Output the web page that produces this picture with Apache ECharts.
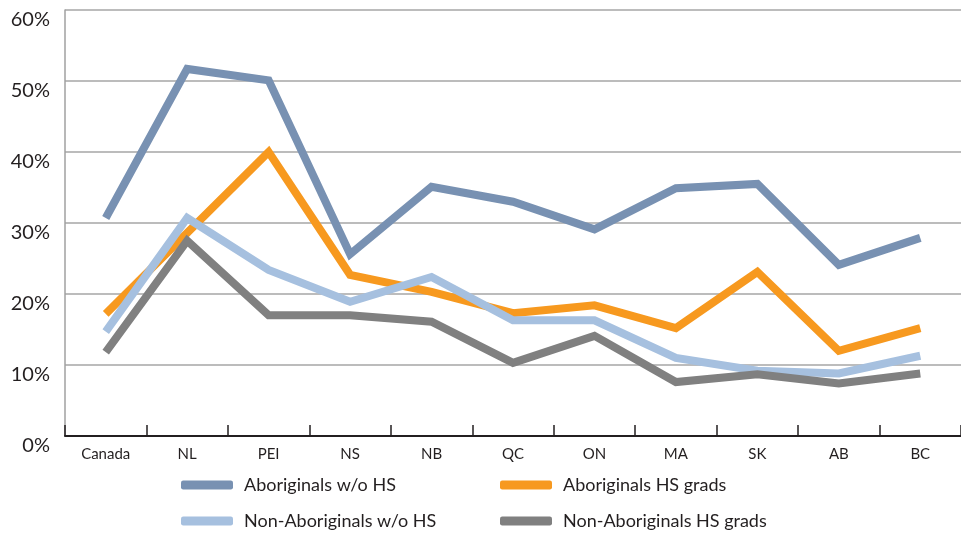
<!DOCTYPE html>
<html>
<head>
<meta charset="utf-8">
<script src="https://cdn.jsdelivr.net/npm/echarts@6/dist/echarts.min.js"></script>
<style>
html,body{margin:0;padding:0;background:#fff;}
#c{width:961px;height:538px;}
</style>
</head>
<body>
<div id="c"></div>
<script>
var categories = ['Canada','NL','PEI','NS','NB','QC','ON','MA','SK','AB','BC'];
var seriesNames = ['Aboriginals w/o HS','Aboriginals HS grads','Non-Aboriginals w/o HS','Non-Aboriginals HS grads'];
var aborigNoHS = [30.7, 51.7, 50.1, 25.6, 35.1, 33.0, 29.1, 34.9, 35.5, 24.1, 27.9];
var aborigHSGrads = [17.2, 28.6, 40.0, 22.7, 20.3, 17.3, 18.4, 15.2, 23.1, 12.0, 15.2];
var nonAborigNoHS = [14.7, 30.7, 23.4, 18.9, 22.4, 16.3, 16.3, 11.0, 9.2, 8.8, 11.3];
var nonAborigHSGrads = [11.8, 27.5, 17.0, 17.0, 16.1, 10.3, 14.1, 7.6, 8.7, 7.4, 8.8];
var yTicks = [0, 10, 20, 30, 40, 50, 60];

var colors = ['#7891b2', '#f7991f', '#a6c0df', '#808080'];
var dataSets = [aborigNoHS, aborigHSGrads, nonAborigNoHS, nonAborigHSGrads];
var font = 'Lato, "Noto Sans", sans-serif';

var chart = echarts.init(document.getElementById('c'));
var legendPos = [[181, 476], [500, 476], [181, 512], [500, 512]];
var legends = seriesNames.map(function(n, i){
  return {
    data: [n], left: legendPos[i][0], top: legendPos[i][1], padding: 0,
    icon: 'roundRect', itemWidth: 52, itemHeight: 9, itemGap: 10,
    textStyle: {fontFamily: font, fontSize: 18, color: '#231f20', padding: [0,0,0,6]},
    selectedMode: false
  };
});
chart.setOption({
  animation: false,
  color: colors,
  legend: legends,
  grid: {left: 65, top: 10, right: -10, bottom: 102, containLabel: false},
  xAxis: {
    type: 'category', data: categories, boundaryGap: true,
    axisLine: {lineStyle: {color: '#231f20', width: 2}},
    axisTick: {show: true, inside: true, length: 11, lineStyle: {color: '#231f20', width: 1.5}},
    axisLabel: {fontFamily: font, fontSize: 15, color: '#231f20', margin: 11},
    splitLine: {show: false}
  },
  yAxis: {
    type: 'value', min: yTicks[0], max: yTicks[yTicks.length-1], interval: yTicks[1]-yTicks[0],
    axisLine: {show: true, lineStyle: {color: '#a0a0a0', width: 1.5}},
    axisTick: {show: false},
    axisLabel: {formatter: '{value}%', fontFamily: font, fontSize: 20, color: '#231f20', margin: 15, verticalAlign: 'top'},
    splitLine: {lineStyle: {color: '#a6a6a6', width: 1.5}}
  },
  series: dataSets.map(function(d, i){
    return {
      name: seriesNames[i], type: 'line', data: d,
      showSymbol: false, symbol: 'none',
      lineStyle: {width: 8, color: colors[i], join: 'miter', cap: 'butt'},
      itemStyle: {color: colors[i]}
    };
  })
});
</script>
</body>
</html>
